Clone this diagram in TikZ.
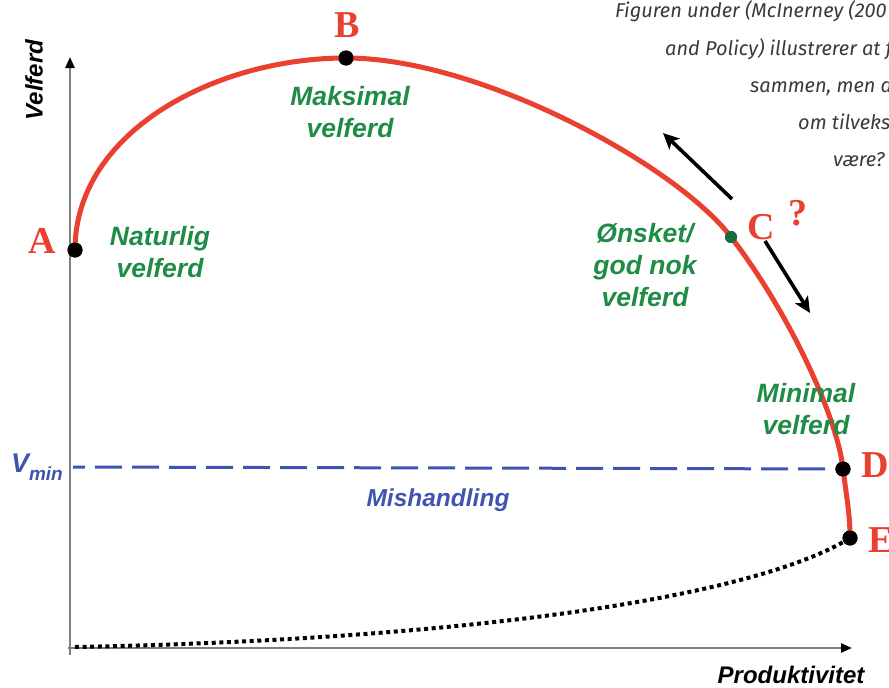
\documentclass[tikz,border=0pt]{standalone}
\usepackage{fontspec}
\setmainfont{Liberation Sans}
\newfontfamily\serifbold{Liberation Serif}
\newfontfamily\topfont{Fira Sans}
\usetikzlibrary{arrows.meta}
\definecolor{curvered}{HTML}{EA4030}
\definecolor{lblgreen}{HTML}{1E8C45}
\definecolor{lblblue}{HTML}{3F54B0}
\definecolor{dotgreen}{HTML}{1A6B3A}
\definecolor{axisgray}{HTML}{7F7F7F}
\definecolor{toptext}{HTML}{3A3A3A}
\begin{document}
\begin{tikzpicture}[x=1pt,y=-1pt,
  dot/.style={circle,fill=black,inner sep=0pt,minimum size=15pt},
  cdot/.style={circle,fill=dotgreen,inner sep=0pt,minimum size=12pt},
  ptlabel/.style={text=curvered,font=\serifbold\bfseries\fontsize{38}{40}\selectfont,inner sep=0pt},
  wlabel/.style={text=lblgreen,font=\bfseries\itshape\fontsize{26.5}{32}\selectfont,align=center,inner sep=0pt},
  axlabel/.style={text=black,font=\bfseries\itshape\fontsize{24}{28}\selectfont,inner sep=0pt},
  axisline/.style={draw=axisgray,line width=2.5pt,-{Triangle[length=11pt,width=9pt,color=black]}},
  topline/.style={text=toptext,font=\topfont\itshape\fontsize{20}{24}\selectfont,anchor=base west,inner sep=0pt},
  redcurve/.style={draw=curvered,line width=5pt},
  movearrow/.style={draw=black,line width=3.6pt,-{Stealth[length=16pt,width=15pt,inset=4pt]}}
]
\useasboundingbox (0,0) rectangle (889,688);
\clip (0,0) rectangle (889,688);

% axes
\coordinate (ybot) at (70,655);
\coordinate (ytop) at (70,57);
\coordinate (xleft) at (68,648);
\coordinate (xright) at (852,648);
\draw[axisline] (ybot) -- (ytop);
\draw[axisline] (xleft) -- (xright);

% points
\node[dot] (A) at (75,250) {};
\node[dot] (B) at (346,58) {};
\node[cdot] (C) at (731,237) {};
\node[dot] (D) at (843,469) {};
\node[dot] (E) at (850,538) {};
\coordinate (O) at (75,647);
\coordinate (Vstart) at (73,467);

% dashed V_min line
\draw[draw=lblblue,line width=3pt,dash pattern=on 27pt off 10pt,dash phase=15pt] (Vstart) -- (D.center);

% dotted curve
\draw[line width=4pt,dash pattern=on 4pt off 3.6pt] (O) .. controls (450,640) and (750,600) .. (E.center);

% red welfare curve
\draw[redcurve] (A.center) .. controls (75,132) and (215,58) .. (B.center)
  .. controls (480,58) and (676,165) .. (C.center)
  .. controls (791,315) and (838,420) .. (D.center)
  .. controls (847,500) and (850,515) .. (E.center);

% redraw dots on top
\node[dot] at (A) {};
\node[dot] at (B) {};
\node[cdot] at (C) {};
\node[dot] at (D) {};
\node[dot] at (E) {};

% arrows
\coordinate (up1) at (732,199);
\coordinate (up2) at (663,133);
\coordinate (dn1) at (765,241);
\coordinate (dn2) at (810,313);
\draw[movearrow] (up1) -- (up2);
\draw[movearrow] (dn1) -- (dn2);

% point labels
\node[ptlabel] (lA) at (42,241) {A};
\node[ptlabel] (lB) at (347,25) {B};
\node[ptlabel] (lC) at (761,227) {C};
\node[ptlabel] (lQ) at (798,213) {?};
\node[ptlabel] (lD) at (875,465) {D};
\node[ptlabel] (lE) at (881,540) {E};

% green labels
\node[wlabel] (nat) at (160,252) {Naturlig\\velferd};
\node[wlabel] (maks) at (350,112) {Maksimal\\velferd};
\node[wlabel] (onsk) at (645,265) {Ønsket/\\god nok\\velferd};
\node[wlabel] (minv) at (806,409) {Minimal\\velferd};

% blue labels
\node[text=lblblue,font=\bfseries\itshape\fontsize{24.5}{28}\selectfont,inner sep=0pt] (mis) at (438,500) {Mishandling};
\node[text=lblblue,font=\bfseries\itshape,inner sep=0pt,anchor=east] (vmin) at (63,467) {\fontsize{27}{28}\selectfont V\raisebox{-8pt}{\fontsize{19}{20}\selectfont min}};

% axis labels
\node[axlabel,rotate=90] (ylab) at (34,80) {Velferd};
\node[axlabel] (xlab) at (791,675) {Produktivitet};

% top text (cropped at the right edge)
\node[topline] (t1) at (615,17) {Figuren under (McInerney (200};
\node[topline] (t2) at (665,55) {and Policy) illustrerer at f};
\node[topline] (t3) at (750,92) {sammen, men d};
\node[topline] (t4) at (798,129) {om tilveks};
\node[topline] (t5) at (833,166) {være?};
\end{tikzpicture}
\end{document}
